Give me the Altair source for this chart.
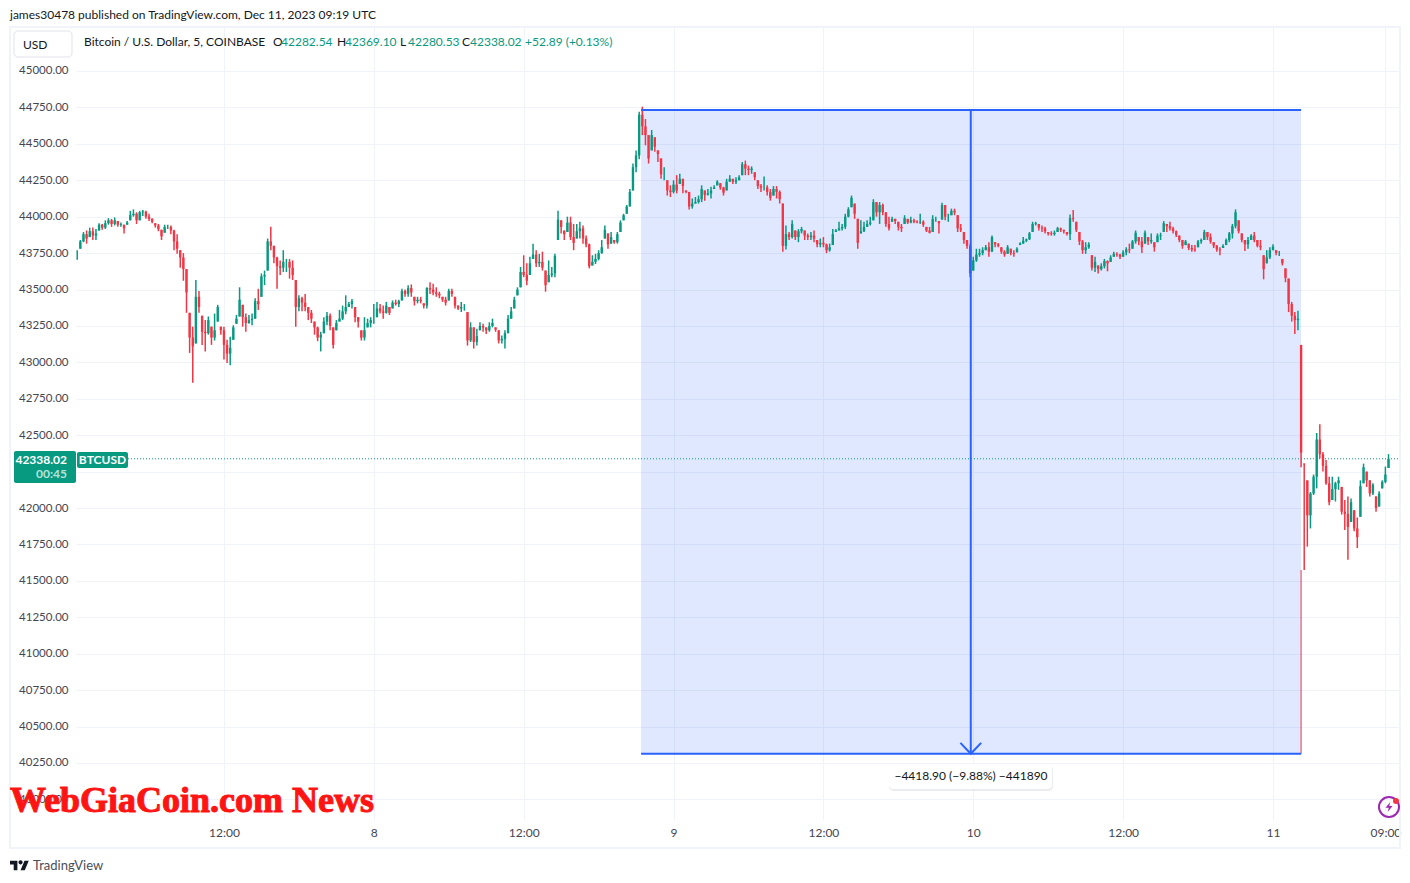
import altair as alt
import pandas as pd

UP = "#089981"
DOWN = "#f23645"
BLUE = "#2962ff"
GRID = "#f0f3fa"
INK = "#131722"
AXIS_TEXT = "#434651"
FONT = "Lato"

HIGH = [
43770,43840,43895,43905,43925,43925,43915,43955,43950,43975,43990,43985,
43995,43970,43960,43945,43970,44040,44050,44030,44040,44045,44040,44020,
43990,43955,43950,43910,43945,43945,43940,43910,43880,43770,43750,43640,
43340,43245,43565,43490,43320,43290,43315,43245,43335,43395,43245,43245,
43155,43175,43255,43325,43515,43395,43335,43325,43335,43440,43505,43610,
43630,43850,43930,43800,43725,43700,43770,43710,43710,43700,43565,43460,
43450,43470,43380,43360,43280,43245,43210,43310,43345,43335,43240,43290,
43360,43390,43460,43415,43435,43380,43310,43220,43310,43300,43310,43400,
43415,43400,43390,43415,43380,43425,43430,43430,43505,43500,43530,43535,
43450,43450,43450,43405,43515,43550,43540,43515,43485,43450,43450,43505,
43505,43450,43390,43415,43400,43345,43275,43240,43230,43275,43265,43240,
43275,43300,43240,43220,43185,43220,43325,43380,43450,43515,43655,43735,
43680,43725,43815,43770,43745,43760,43630,43700,43655,43745,44040,43975,
43905,44000,44000,43950,43950,43965,43940,43870,43815,43735,43745,43770,
43840,43940,43885,43895,43840,43895,43975,44020,44080,44190,44365,44455,
44720,44755,44670,44560,44595,44545,44455,44400,44340,44250,44215,44250,
44285,44295,44260,44180,44170,44125,44135,44145,44215,44180,44190,44205,
44215,44250,44230,44205,44260,44285,44260,44270,44285,44375,44385,44350,
44345,44305,44250,44225,44275,44215,44190,44210,44210,44180,44090,43940,
43895,43975,43905,43915,43930,43905,43885,43895,43905,43840,43850,43860,
43815,43815,43915,43915,43965,43950,44020,44065,44145,44090,43985,43975,
43965,43975,44000,44120,44100,44100,44090,44030,44000,44000,43985,43965,
43950,44010,43985,44000,43985,43975,44020,43975,43930,43930,44010,44000,
43970,44095,44080,44020,44055,44055,44010,43950,43895,43840,43815,43725,
43780,43780,43790,43805,43825,43870,43825,43820,43790,43770,43805,43780,
43770,43790,43825,43860,43850,43895,43965,43965,43950,43940,43930,43895,
43900,43905,43930,43925,43910,43895,44015,44045,43965,43895,43840,43825,
43825,43735,43725,43665,43680,43710,43700,43735,43760,43755,43745,43770,
43790,43815,43840,43905,43860,43860,43905,43860,43885,43825,43885,43890,
43970,43950,43965,43930,43905,43870,43840,43840,43815,43805,43805,43840,
43850,43910,43895,43885,43825,43805,43790,43810,43850,43895,43950,44050,
43975,43885,43840,43860,43880,43895,43840,43840,43735,43770,43790,43810,
43770,43765,43710,43645,43575,43415,43345,43355,43120,42305,42190,42110,
42230,42515,42575,42385,42330,42215,42215,42180,42215,42145,42055,42080,
42065,41985,41935,42190,42305,42250,42190,42170,42080,42115,42190,42285,
42370,
]
LOW = [
43705,43780,43825,43815,43860,43840,43840,43905,43910,43915,43945,43930,
43940,43930,43930,43885,43945,43975,44000,43950,43975,44005,43985,43970,
43955,43925,43900,43840,43890,43915,43880,43770,43745,43650,43560,43340,
43065,42860,43130,43340,43120,43075,43190,43120,43150,43280,43190,43020,
42995,42980,43155,43265,43315,43245,43210,43265,43255,43300,43360,43450,
43530,43630,43770,43680,43505,43600,43620,43620,43575,43565,43245,43350,
43350,43350,43290,43270,43190,43145,43075,43200,43255,43220,43095,43220,
43280,43290,43330,43380,43370,43275,43240,43150,43150,43240,43240,43265,
43310,43335,43300,43335,43325,43370,43390,43380,43425,43450,43450,43450,
43390,43405,43405,43370,43370,43470,43460,43450,43440,43415,43390,43425,
43450,43370,43360,43345,43355,43115,43140,43095,43115,43220,43210,43195,
43210,43240,43210,43130,43130,43095,43200,43300,43370,43460,43515,43585,
43530,43600,43710,43655,43655,43630,43485,43550,43585,43585,43840,43885,
43840,43895,43840,43770,43850,43850,43815,43790,43645,43665,43675,43700,
43745,43850,43780,43815,43815,43815,43895,43975,44020,44070,44180,44305,
44395,44560,44490,44365,44455,44445,44375,44260,44250,44145,44135,44160,
44160,44225,44160,44160,44050,44055,44090,44090,44100,44110,44145,44125,
44190,44215,44185,44145,44180,44240,44225,44225,44250,44285,44285,44285,
44295,44250,44190,44170,44180,44145,44110,44145,44125,44090,43760,43775,
43840,43850,43840,43825,43885,43840,43840,43840,43825,43790,43790,43790,
43750,43760,43805,43895,43905,43905,43915,43995,44065,43985,43780,43885,
43895,43930,43940,43975,44000,43950,44010,43930,43905,43965,43950,43905,
43895,43950,43950,43955,43955,43955,43950,43930,43895,43885,43895,43965,
43885,43980,43975,43965,44010,44010,43895,43895,43815,43780,43585,43630,
43690,43725,43735,43770,43725,43760,43790,43790,43745,43725,43745,43735,
43725,43755,43805,43815,43825,43840,43895,43940,43905,43895,43885,43870,
43870,43870,43895,43895,43885,43870,43840,43965,43895,43805,43745,43745,
43780,43630,43620,43610,43630,43645,43625,43690,43725,43725,43710,43725,
43735,43750,43780,43815,43805,43750,43815,43805,43815,43760,43825,43840,
43895,43895,43905,43885,43860,43825,43780,43805,43770,43760,43760,43790,
43815,43840,43840,43815,43785,43760,43735,43785,43805,43825,43850,43920,
43885,43825,43765,43780,43840,43825,43790,43770,43570,43680,43710,43770,
43735,43730,43665,43550,43345,43280,43195,43220,42280,41575,41735,41860,
42090,42135,42340,42250,42160,42020,42055,42045,42125,41955,41850,41645,
41905,41840,41725,41940,42170,42145,42080,42090,41975,42010,42135,42170,
42275,
]
CLOSE = [
43760,43830,43880,43850,43900,43870,43885,43945,43925,43955,43975,43950,
43975,43945,43950,43920,43960,44010,44020,43975,44030,44035,44000,43985,
43965,43940,43915,43865,43930,43930,43905,43830,43780,43720,43640,43480,
43170,43110,43450,43380,43210,43200,43290,43170,43220,43380,43220,43120,
43060,43100,43240,43300,43430,43310,43270,43290,43300,43420,43400,43590,
43600,43830,43800,43720,43660,43650,43690,43690,43650,43600,43380,43440,
43410,43380,43340,43300,43240,43170,43190,43280,43320,43250,43120,43270,
43300,43350,43380,43400,43420,43310,43280,43170,43220,43270,43290,43290,
43370,43350,43340,43390,43340,43410,43400,43420,43490,43470,43510,43480,
43420,43430,43420,43390,43510,43500,43480,43470,43460,43430,43410,43490,
43470,43390,43370,43380,43380,43150,43240,43140,43180,43250,43240,43220,
43250,43270,43225,43150,43160,43200,43300,43350,43430,43500,43620,43600,
43560,43680,43740,43680,43690,43650,43530,43600,43610,43730,43980,43930,
43880,43960,43860,43820,43900,43920,43850,43810,43660,43690,43710,43750,
43790,43910,43810,43860,43825,43880,43960,44010,44070,44170,44340,44420,
44700,44620,44560,44400,44560,44480,44430,44290,44290,44180,44170,44220,
44180,44260,44210,44170,44070,44090,44100,44120,44190,44150,44160,44180,
44200,44240,44200,44165,44240,44260,44240,44250,44270,44360,44330,44320,
44330,44270,44210,44200,44200,44170,44130,44190,44170,44120,43800,43880,
43860,43950,43860,43900,43915,43870,43860,43870,43850,43810,43820,43810,
43770,43790,43880,43905,43920,43930,44000,44050,44130,44020,43820,43900,
43930,43950,43960,44100,44030,44080,44030,43950,43920,43985,43970,43930,
43920,43990,43960,43975,43965,43960,43965,43945,43905,43890,43985,43985,
43955,44080,44000,44000,44040,44030,43920,43910,43840,43800,43610,43700,
43740,43750,43770,43790,43760,43860,43810,43800,43760,43740,43790,43750,
43745,43780,43815,43835,43845,43885,43950,43955,43925,43920,43900,43885,
43880,43890,43920,43910,43900,43880,43990,43985,43910,43830,43770,43790,
43810,43650,43690,43640,43660,43695,43680,43720,43745,43740,43725,43755,
43775,43770,43830,43890,43830,43790,43890,43830,43840,43790,43870,43875,
43955,43935,43920,43900,43875,43840,43800,43830,43785,43775,43770,43830,
43840,43895,43860,43830,43800,43775,43770,43800,43840,43885,43935,44030,
43900,43840,43810,43840,43870,43840,43800,43790,43640,43720,43770,43795,
43750,43750,43680,43580,43400,43320,43290,43300,42380,42300,41950,42100,
42215,42470,42370,42290,42170,42040,42130,42170,42190,41975,41960,41870,
42040,41860,41800,42150,42280,42190,42100,42160,42000,42100,42180,42230,
42338,
]

PRICE_TICKS = [40000 + 250 * k for k in range(21)]
TIME_TICKS = [12, 24, 36, 48, 60, 72, 84, 96, 105]
TIME_LABELS = ["12:00", "8", "12:00", "9", "12:00", "10", "12:00", "11", "09:00"]

MEASURE_START, MEASURE_END, MEASURE_MID = 45.4, 98.25, 71.8
MEASURE_TOP, MEASURE_BOTTOM = 44732, 40313
LAST_PRICE = 42338.02

XDOM = [0.152, 106.17]
YDOM = [39858.6, 45302]

n = len(CLOSE)
df = pd.DataFrame({"h": [0.25 * (i + 1) for i in range(n)], "high": HIGH, "low": LOW, "close": CLOSE})
df["open"] = df["close"].shift(1).fillna(df["close"]).clip(df["low"], df["high"])
df["dir"] = ["up" if c >= o else "down" for c, o in zip(df["close"], df["open"])]

label_map = "{" + ",".join(f"{t}:'{l}'" for t, l in zip(TIME_TICKS, TIME_LABELS)) + "}"
x_scale = alt.Scale(domain=XDOM, nice=False, zero=False)
y_scale = alt.Scale(domain=YDOM, nice=False, zero=False)
x_axis = alt.Axis(values=TIME_TICKS, labelExpr=f"{label_map}[datum.value]", title=None, domain=False,
                  ticks=False, grid=True, gridColor=GRID, gridWidth=1, labelFont=FONT, labelFontSize=12,
                  labelColor=AXIS_TEXT, labelPadding=7, labelFlush=False, labelOverlap=False)
y_axis = alt.Axis(values=PRICE_TICKS, format=".2f", title=None, domain=False, ticks=False, grid=True,
                  gridColor=GRID, gridWidth=1, labelFont=FONT, labelFontSize=11.5, labelColor=AXIS_TEXT,
                  labelPadding=8, labelOverlap=False)

X = lambda f="h": alt.X(f, type="quantitative", scale=x_scale, axis=x_axis)
Y = lambda f: alt.Y(f, type="quantitative", scale=y_scale, axis=y_axis)
color = alt.Color("dir:N", scale=alt.Scale(domain=["up", "down"], range=[UP, DOWN]), legend=None)

base = alt.Chart(df)

meas = pd.DataFrame({"a": [MEASURE_START], "b": [MEASURE_END], "m": [MEASURE_MID],
                     "top": [MEASURE_TOP], "bot": [MEASURE_BOTTOM], "fall": [41575]})
mbase = alt.Chart(meas)
rect = mbase.mark_rect(color=BLUE, opacity=0.15).encode(x=X("a"), x2="b:Q", y=Y("top"), y2="bot:Q")
edge = mbase.mark_rule(color=DOWN, strokeWidth=1).encode(x=X("b"), y=Y("fall"), y2="bot:Q")
top_l = mbase.mark_rule(color=BLUE, strokeWidth=2).encode(x=X("a"), x2="b:Q", y=Y("top"))
bot_l = mbase.mark_rule(color=BLUE, strokeWidth=2).encode(x=X("a"), x2="b:Q", y=Y("bot"))
mid_l = mbase.mark_rule(color=BLUE, strokeWidth=2).encode(x=X("m"), y=Y("top"), y2="bot:Q")
arrow = alt.Chart(pd.DataFrame({"h": [MEASURE_MID - 0.83, MEASURE_MID, MEASURE_MID + 0.83],
                                "p": [MEASURE_BOTTOM + 75, MEASURE_BOTTOM, MEASURE_BOTTOM + 75]})).mark_line(
    color=BLUE, strokeWidth=2).encode(x=X("h"), y=Y("p"))

wick = base.mark_rule(strokeWidth=1.5).encode(x=X(), y=Y("high"), y2="low:Q", color=color)
body = base.mark_rule(strokeWidth=2.4).encode(x=X(), y=Y("open"), y2="close:Q", color=color)

last = alt.Chart(pd.DataFrame({"p": [LAST_PRICE]})).mark_rule(color=UP, strokeWidth=1, strokeDash=[1, 2]).encode(
    x=alt.value(52), x2=alt.value(1324), y=Y("p"))

ONE = alt.Data(values=[{}])
OX, OY = 76, 27


def box(x0, y0, x1, y1, fill, stroke=None, r=0, sw=1, op=1):
    kw = dict(fill=fill, cornerRadius=r, opacity=op)
    if stroke:
        kw.update(stroke=stroke, strokeWidth=sw)
    else:
        kw.update(strokeWidth=0)
    return alt.Chart(ONE).mark_rect(**kw).encode(
        x=alt.value(x0 - OX), x2=alt.value(x1 - OX), y=alt.value(y0 - OY), y2=alt.value(y1 - OY))


def txt(x, y, s, c=INK, size=12, align="left", font=FONT, bold=False, **kw):
    return alt.Chart(ONE).mark_text(align=align, baseline="middle", color=c, fontSize=size, font=font,
                                    fontWeight="bold" if bold else "normal", **kw).encode(
        x=alt.value(x - OX), y=alt.value(y - OY), text=alt.value(s))


def glyph(x, y, shape, size, c, filled=True, sw=0):
    return alt.Chart(ONE).mark_point(shape=shape, size=size, filled=filled, color=c, opacity=1,
                                     strokeWidth=sw).encode(x=alt.value(x - OX), y=alt.value(y - OY))


frame = [
    box(9, 26, 11, 849, GRID), box(9, 847, 1401, 849, GRID),
    box(9, 26, 1401, 28, GRID), box(1399, 26, 1401, 849, GRID),
]
overlay = [
    txt(10, 15, "james30478 published on TradingView.com, Dec 11, 2023 09:19 UTC"),
    box(14, 31, 72, 57, "#ffffff", stroke="#e0e3eb", r=4),
    txt(23, 44.5, "USD"),
    txt(84, 42, "Bitcoin / U.S. Dollar, 5, COINBASE"),
    txt(273, 42, "O"), txt(281, 42, "42282.54", UP),
    txt(337, 42, "H"), txt(345, 42, "42369.10", UP),
    txt(400, 42, "L"), txt(408, 42, "42280.53", UP),
    txt(462, 42, "C"), txt(470, 42, "42338.02", UP),
    txt(525, 42, "+52.89 (+0.13%)", UP),
    box(14, 451, 76, 483, UP, r=2),
    txt(67, 460, "42338.02", "#ffffff", align="right", bold=True),
    txt(67, 474, "00:45", "#b5e3d9", align="right", bold=True),
    box(77, 452, 128, 468, UP, r=2),
    txt(102.5, 460, "BTCUSD", "#ffffff", align="center", bold=True),
    box(889, 765, 1053, 791, "#d8dae0", r=5, op=0.5),
    box(889, 764, 1052, 789, "#ffffff", r=4),
    txt(971, 776, "\u22124418.90 (\u22129.88%) \u2212441890", align="center"),
    txt(10, 801, "WebGiaCoin.com News", "#ff1414", size=36, font="Liberation Serif", bold=True,
        stroke="#ff1414", strokeWidth=1),
    glyph(1389, 807, "circle", 400, "#9c27b0", filled=False, sw=2),
    glyph(1389, 807, "M0.25,-1 L-0.7,0.15 L-0.05,0.15 L-0.25,1 L0.7,-0.2 L0.05,-0.2 Z", 100, "#9c27b0"),
    glyph(1396, 801, "circle", 36, "#f23645"),
    glyph(19.5, 866, "M-1,-.556 L-.222,-.556 L-.222,.444 L-.611,.444 L-.611,-.167 L-1,-.167 Z "
                     "M.111,.444 L.528,-.556 L.972,-.556 L.556,.444 Z "
                     "M-.111,-.389 a.222,.222 0 1,0 .444,0 a.222,.222 0 1,0 -.444,0 Z", 361, INK),
    txt(33, 866, "TradingView", "#4a4e5a", size=13),
]

chart = alt.layer(rect, edge, last, wick, body, top_l, bot_l, mid_l, arrow, *frame, *overlay).properties(
    width=1324, height=793,
    padding={"left": 68, "top": 19, "right": 2, "bottom": 52},
    autosize=alt.AutoSizeParams(type="none"),
    background="#ffffff",
).configure_view(stroke=None)

chart.save("out.html", embed_options={"renderer": "svg", "actions": False})
